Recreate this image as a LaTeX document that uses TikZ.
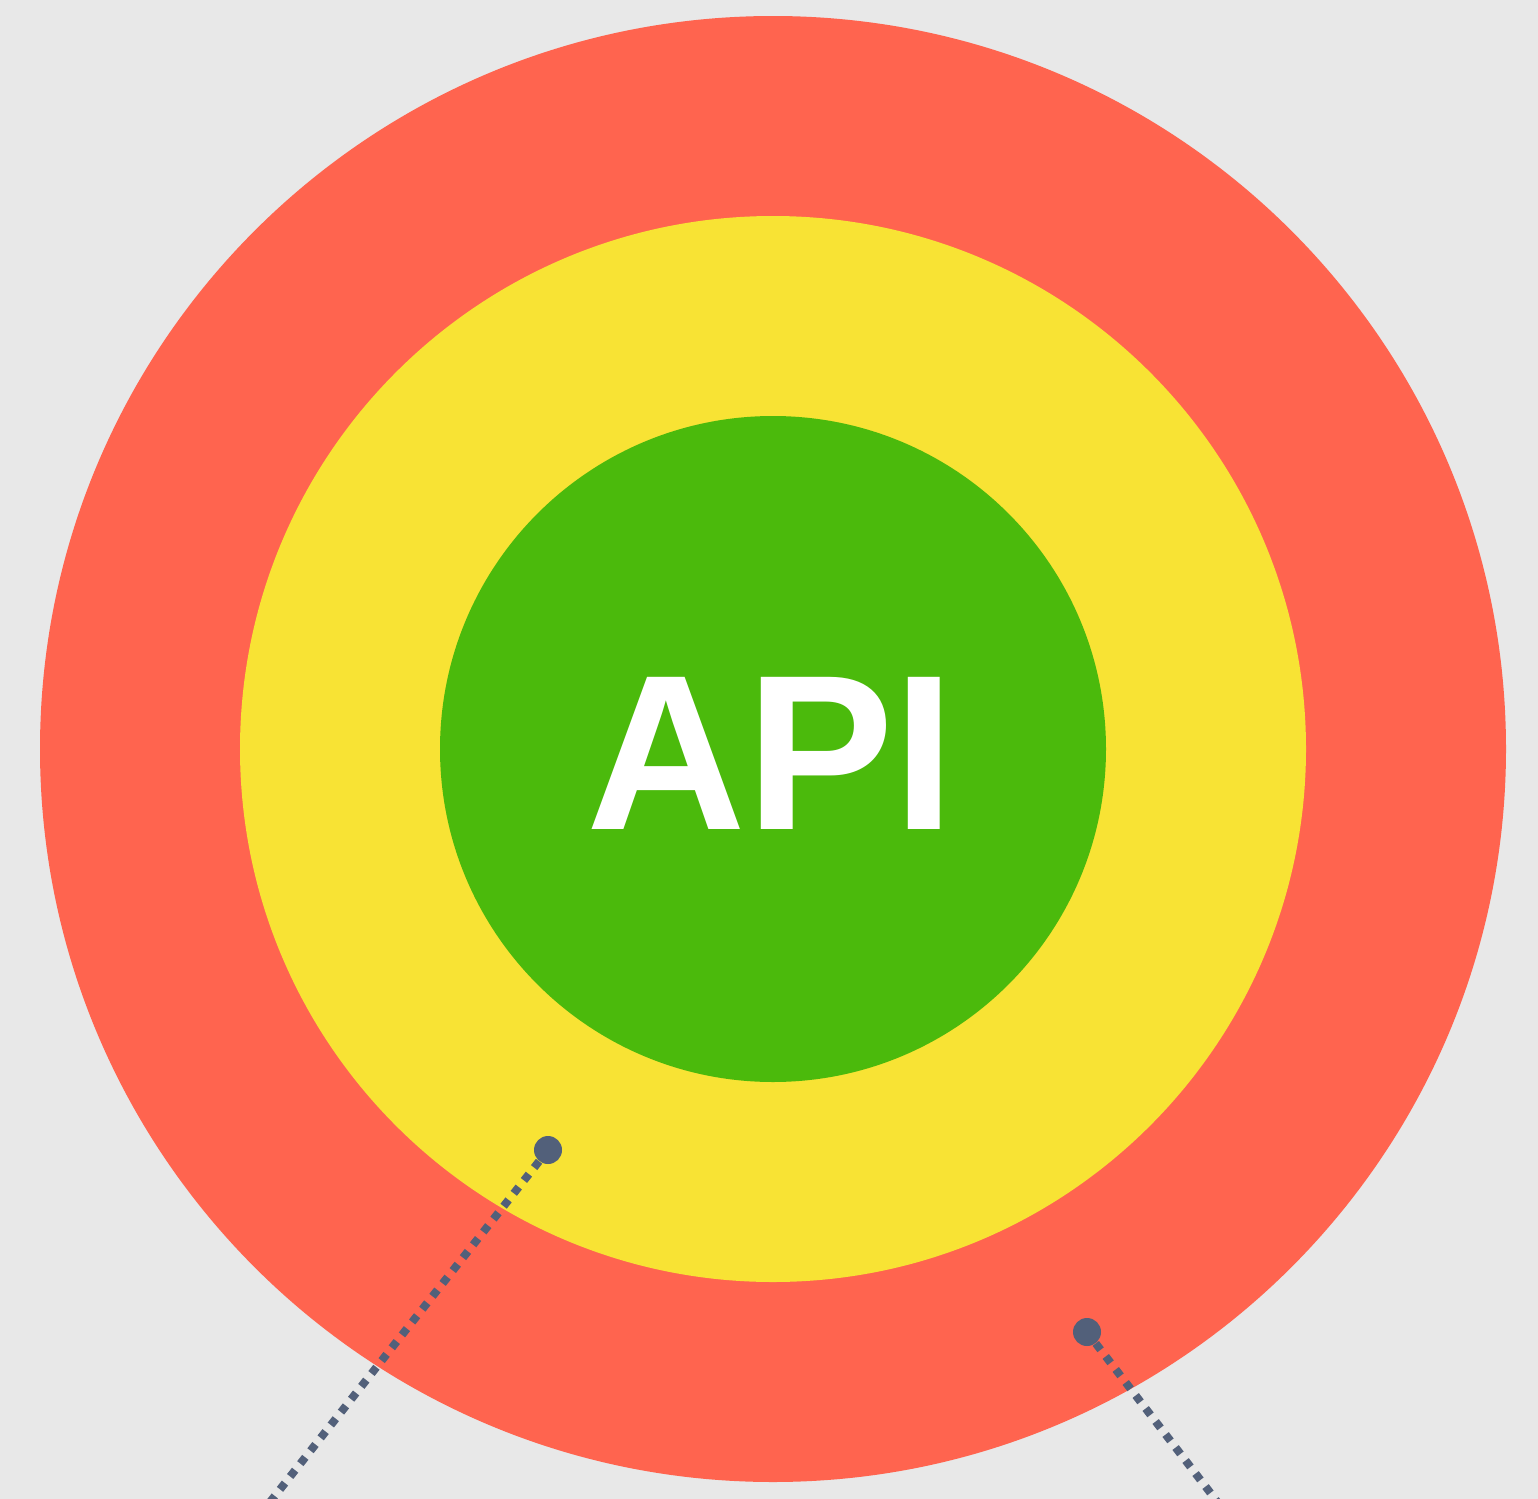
\documentclass[tikz,border=0pt]{standalone}
\usepackage{fontspec}
\setmainfont{Liberation Sans}
\usepackage{xcolor}
\usetikzlibrary{positioning}

\definecolor{bgGray}{HTML}{E8E8E8}
\definecolor{ringRed}{HTML}{FF644F}
\definecolor{ringYellow}{HTML}{F8E334}
\definecolor{coreGreen}{HTML}{4BBA0C}
\definecolor{pinGray}{HTML}{52607A}

\begin{document}
\begin{tikzpicture}[
  x=0.5pt, y=-0.5pt,
  ring/.style={circle, inner sep=0pt, draw=none},
  pin/.style={circle, fill=pinGray, inner sep=0pt, minimum size=14pt},
  leader/.style={draw=pinGray, line width=4pt, dash pattern=on 4pt off 4.2pt}
]

% background / page size
\fill[bgGray] (0,0) rectangle (1538,1499);
\useasboundingbox (0,0) rectangle (1538,1499);

% three zones
\node[ring, fill=ringRed, minimum size=733pt]    (outer) at (773,749) {};
\node[ring, fill=ringYellow, minimum size=533pt] (mid)   at (773,749) {};
\node[ring, fill=coreGreen, minimum size=333pt]  (core)  at (773,749) {};

\node[text=white, inner sep=0pt, font=\fontsize{110.6pt}{115pt}\selectfont\bfseries]
  (api) at (771,753.5) {API};

% pins with leader lines
\node[pin] (pinA) at (548,1150) {};
\node[pin] (pinB) at (1087,1332) {};
\coordinate (endA) at (240,1540);
\coordinate (endB) at (1245,1538);

\draw[leader] (pinA) -- (endA);
\draw[leader] (pinB) -- (endB);

\end{tikzpicture}
\end{document}
